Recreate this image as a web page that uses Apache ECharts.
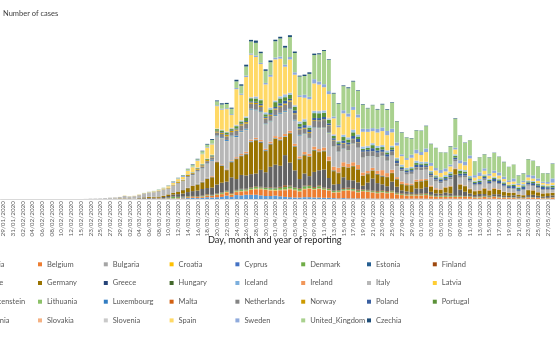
<!DOCTYPE html>
<html><head><meta charset="utf-8">
<script src="https://cdn.jsdelivr.net/npm/echarts@6/dist/echarts.min.js"></script>
<style>html,body{margin:0;padding:0;background:#fff}#c{width:555px;height:338px}</style>
</head><body><div id="c"></div>
<script>
const dates = ['29/01/2020','30/01/2020','31/01/2020','01/02/2020','02/02/2020','03/02/2020','04/02/2020','05/02/2020','06/02/2020','07/02/2020',
'08/02/2020','09/02/2020','10/02/2020','11/02/2020','12/02/2020','14/02/2020','15/02/2020','22/02/2020','23/02/2020','24/02/2020',
'25/02/2020','26/02/2020','27/02/2020','28/02/2020','29/02/2020','01/03/2020','02/03/2020','03/03/2020','04/03/2020','05/03/2020',
'06/03/2020','07/03/2020','08/03/2020','09/03/2020','10/03/2020','11/03/2020','12/03/2020','13/03/2020','14/03/2020','15/03/2020',
'16/03/2020','17/03/2020','18/03/2020','19/03/2020','20/03/2020','21/03/2020','22/03/2020','23/03/2020','24/03/2020','25/03/2020',
'26/03/2020','27/03/2020','28/03/2020','29/03/2020','30/03/2020','31/03/2020','01/04/2020','02/04/2020','03/04/2020','04/04/2020',
'05/04/2020','06/04/2020','07/04/2020','08/04/2020','09/04/2020','10/04/2020','11/04/2020','12/04/2020','13/04/2020','14/04/2020',
'15/04/2020','16/04/2020','17/04/2020','18/04/2020','19/04/2020','20/04/2020','21/04/2020','22/04/2020','23/04/2020','24/04/2020',
'25/04/2020','26/04/2020','27/04/2020','28/04/2020','29/04/2020','30/04/2020','01/05/2020','02/05/2020','03/05/2020','04/05/2020',
'05/05/2020','06/05/2020','07/05/2020','08/05/2020','09/05/2020','10/05/2020','11/05/2020','12/05/2020','13/05/2020','14/05/2020',
'15/05/2020','16/05/2020','17/05/2020','18/05/2020','19/05/2020','20/05/2020','21/05/2020','22/05/2020','23/05/2020','24/05/2020',
'25/05/2020','26/05/2020','27/05/2020','28/05/2020'];

const austria = [0,0,0,0,0,0,0,0,0,0, 0,0,0,0,0,0,0,0,0,0, 2,0,3,4,1,4,4,3,3,12,
10,15,20,30,40,60,60,100,150,200, 150,200,300,250,300,350,550,350,650,600,
700,700,700,600,500,500,550,450,350,300, 250,250,300,300,250,250,200,200,150,100,
150,100,100,100,80,80,80,60,60,60, 60,60,50,50,50,60,60,50,40,30,
40,40,50,40,40,40,30,30,30,30, 40,40,30,30,30,30,20,20,30,30,20,20,20,20];
const belgium = [0,0,0,0,0,0,1,0,0,0, 0,0,0,0,0,0,0,0,0,0, 0,0,0,0,0,1,7,5,10,27,
30,50,60,30,70,50,80,100,150,130, 170,180,240,250,400,450,550,350,500,650,
600,800,900,1000,1000,900,800,1000,1100,1300, 1200,1000,1300,1400,1300,1400,1300,1200,900,1000,
1200,1300,1200,1000,1200,1100,1000,900,1000,900, 1000,700,600,500,500,500,500,600,400,300,
300,300,300,300,300,300,300,200,200,300, 200,300,200,200,200,150,100,100,200,200,150,100,100,200];
const bulgaria = [0,0,0,0,0,0,0,0,0,0, 0,0,0,0,0,0,0,0,0,0, 0,0,0,0,0,0,0,0,0,0,
0,0,4,2,2,3,4,14,2,10, 7,24,11,22,13,14,11,25,15,43,
22,23,25,28,29,40,31,34,28,35, 22,31,26,28,25,40,20,32,36,28,
25,35,58,42,33,30,29,37,29,44, 30,24,39,49,38,29,49,30,31,30,
30,16,20,25,40,25,30,20,25,32, 30,25,35,20,15,30,20,15,20,10,15,17,11,13];
const croatia = [0,0,0,0,0,0,0,0,0,0, 0,0,0,0,0,0,0,0,0,0, 1,2,0,0,1,2,1,2,1,1,
1,1,1,0,1,2,1,5,3,5, 11,12,26,20,24,36,48,52,63,38,
60,71,83,89,56,83,96,51,104,80, 72,74,57,57,60,53,58,34,44,44,
34,70,44,25,20,30,20,20,30,20, 20,15,10,10,15,10,10,5,8,5,
5,10,5,5,3,5,3,2,3,4, 2,1,2,3,1,2,1,1,0,1,2,1,0,1];
const cyprus = [0,0,0,0,0,0,0,0,0,0, 0,0,0,0,0,0,0,0,0,0, 0,0,0,0,0,0,0,0,0,0,
0,0,2,0,0,1,3,10,6,7, 6,12,21,9,9,24,16,11,29,16,
14,5,11,19,17,16,24,7,21,23, 21,17,9,20,16,28,9,20,15,24,
9,21,9,10,5,16,15,5,10,9, 4,5,3,3,1,1,5,3,7,6,
3,2,4,3,2,3,4,2,2,3, 2,1,3,1,0,1,2,3,2,1,0,2,1,0];
const denmark = [0,0,0,0,0,0,0,0,0,0, 0,0,0,0,0,0,0,0,0,0, 0,0,1,0,2,1,0,1,5,10,
10,8,15,18,90,250,160,50,120,64, 60,70,100,60,80,140,100,70,120,230,
180,200,260,170,220,230,250,280,370,320, 270,300,390,330,180,310,180,170,170,190,
210,150,220,190,160,150,140,170,180,140, 160,140,120,130,150,130,140,160,130,90,
120,140,100,120,100,80,90,60,90,100, 70,70,60,50,50,60,40,50,60,40,40,30,40,40];
const estonia = [0,0,0,0,0,0,0,0,0,0, 0,0,0,0,0,0,0,0,0,0, 0,0,1,0,0,0,0,0,0,0,
1,0,0,0,8,1,10,80,20,20, 40,20,30,40,20,28,30,30,50,60,
40,30,50,40,45,60,40,50,40,60, 40,30,50,40,30,40,20,30,30,20,
30,40,30,25,20,20,20,15,10,20, 10,10,15,10,5,10,8,10,5,5,
8,5,5,10,5,5,3,5,5,4, 3,5,3,4,2,3,2,1,3,2,1,2,1,2];
const finland = [1,0,0,0,0,0,0,0,0,0, 0,0,0,0,0,0,0,0,0,0, 0,1,0,0,0,0,4,0,1,5,
6,3,11,5,10,20,40,50,45,70, 50,40,90,40,50,60,70,100,80,50,
80,90,90,80,70,110,90,140,260,120, 70,100,90,110,130,140,100,90,60,80,
140,170,130,160,90,90,90,130,110,120, 100,80,100,110,90,100,130,110,70,60,
80,60,50,40,60,50,50,60,80,50, 40,50,60,40,20,30,30,20,40,20,10,20,30,20];
const france = [1,0,1,0,0,0,0,0,0,0, 5,0,0,0,0,0,1,0,0,0, 2,1,3,20,43,30,61,12,80,92,
120,150,100,250,280,350,450,500,650,800, 900,1100,1000,1200,1500,1600,1500,2600,1800,2300,
2200,2200,2100,2800,2500,3400,3800,3500,5000,3800, 2800,1500,2000,1500,2500,2500,3000,1700,1000,1000,
1800,1250,1300,1200,600,1200,2000,1300,1000,800, 1500,1000,500,400,300,900,800,1000,500,400,
300,500,400,3500,1000,700,400,300,400,300, 200,300,400,200,200,300,200,100,300,400,300,200,300,300];
const germany = [4,1,1,2,1,1,2,1,0,2, 0,0,1,2,1,0,0,0,0,0, 0,2,21,26,57,57,28,28,52,108,
150,130,170,200,250,300,400,550,650,850, 1000,1100,1500,1700,3700,2800,1900,2500,3300,3100,
3500,5300,5500,4500,3500,3700,4300,4200,3000,4800, 3900,3200,3000,3200,3500,3000,3000,2800,2200,1800,
1700,2000,2300,2100,1600,1400,1300,1400,1300,1500, 1400,1200,1000,1000,1100,1100,1200,1100,800,600,
600,800,1100,900,800,900,700,600,500,900, 800,900,700,600,500,400,300,300,800,700,550,500,450,400];
const greece = [0,0,0,0,0,0,0,0,0,0, 0,0,0,0,0,0,0,0,0,0, 0,0,1,2,1,3,0,0,2,22,
14,1,28,0,11,15,31,90,38,43, 30,27,56,31,30,46,37,94,71,56,
78,71,29,100,95,60,31,50,20,50, 50,62,60,30,50,20,30,15,56,15,
20,23,20,20,30,40,20,60,80,10, 20,20,8,10,20,10,30,10,5,10,
10,5,10,10,20,10,10,5,10,5, 5,4,5,10,4,10,3,5,10,3,5,10,3,5];
const hungary = [0,0,0,0,0,0,0,0,0,0, 0,0,0,0,0,0,0,0,0,0, 0,0,0,0,0,0,0,0,0,0,
2,0,2,2,0,4,3,3,6,2, 11,11,19,8,15,12,17,36,20,41,
35,35,66,42,39,45,45,60,38,44, 61,111,84,51,93,79,91,38,81,70,
58,70,62,60,50,80,40,60,70,60, 40,60,50,40,60,50,40,50,30,40,
30,30,25,40,40,30,20,25,30,20, 20,25,15,20,20,15,10,15,20,15,10,15,10,10];
const iceland = [0,0,0,0,0,0,0,0,0,0, 0,0,0,0,0,0,0,0,0,0, 0,0,0,1,0,2,3,10,10,19,
10,10,5,10,13,22,30,15,40,30, 40,38,53,47,78,60,68,95,38,80,
60,80,90,70,45,60,65,56,100,30, 50,40,20,30,45,25,30,25,14,13,
12,10,13,14,9,7,11,11,7,6, 3,7,3,2,4,4,5,2,1,3,
2,0,1,1,0,2,1,0,0,1, 0,1,0,0,1,0,0,1,0,0,1,0,2,0];
const ireland = [0,0,0,0,0,0,0,0,0,0, 0,0,0,0,0,0,0,0,0,0, 0,0,0,0,1,0,1,0,4,7,
5,5,5,10,10,10,15,20,40,50, 40,70,80,120,100,120,100,100,200,200,
250,250,250,250,200,300,300,400,350,350, 350,350,400,400,500,400,500,700,600,800,
700,600,600,700,500,400,400,500,900,600, 500,300,400,300,200,300,300,200,200,200,
100,100,100,100,100,100,100,100,100,100, 100,100,100,60,60,60,50,50,60,50,50,40,40,50];
const italy = [0,0,2,0,0,0,0,0,0,1, 0,0,0,0,0,0,0,17,60,70, 90,130,180,200,220,400,300,400,450,520,
620,700,800,950,900,1100,1250,1300,1700,1650, 2000,2100,2300,2500,4000,4300,4600,3900,3300,3600,
3600,4900,4500,4500,4000,3300,3300,3800,3600,3500, 3800,3400,2900,2500,3100,3400,3200,3800,3300,2600,
2200,2200,3000,2800,2400,2400,1900,2200,2300,2000, 2300,1800,1700,1400,1600,1600,1500,1500,1400,1100,
1000,900,1100,1100,1000,1300,1100,800,750,1300, 900,900,800,800,600,500,450,800,650,650,650,500,500,400];
const latvia = [0,0,0,0,0,0,0,0,0,0, 0,0,0,0,0,0,0,0,0,0, 0,0,0,0,0,0,1,0,0,0,
0,1,0,2,2,6,7,15,10,8, 8,26,11,26,30,25,15,20,17,30,
26,24,17,26,29,25,22,12,20,23, 16,9,16,25,12,14,12,10,7,6,
11,17,14,8,13,6,4,5,7,4, 10,5,6,10,4,9,8,8,3,4,
3,10,2,3,11,7,2,4,5,3, 2,3,2,4,1,4,2,3,4,2,1,3,1,2];
const liechtenstein = [0,0,0,0,0,0,0,0,0,0, 0,0,0,0,0,0,0,0,0,0, 0,0,0,0,0,0,0,0,0,0,
0,0,0,0,0,1,0,2,1,3, 2,1,3,4,5,3,4,6,3,4,
5,3,2,4,3,1,2,3,1,2, 1,2,1,0,1,0,1,0,0,1,
0,0,1,0,0,0,0,1,0,0, 0,0,0,0,0,0,0,0,0,0,
0,0,0,0,0,0,0,0,0,0, 0,0,0,0,0,0,0,0,0,0,0,0,0,0];
const lithuania = [0,0,0,0,0,0,0,0,0,0, 0,0,0,0,0,0,0,0,0,0, 0,0,0,1,0,0,0,0,0,0,
0,0,0,1,1,1,3,1,4,5, 12,9,15,22,20,24,15,44,28,56,
43,36,24,62,34,40,28,52,71,37, 39,38,47,37,40,46,55,81,21,27,
19,22,56,27,31,17,16,20,34,37, 30,20,15,12,10,12,8,15,14,10,
8,11,6,17,8,9,11,8,2,5, 7,15,6,12,14,10,8,12,9,7,11,6,8,5];
const luxembourg = [0,0,0,0,0,0,0,0,0,0, 0,0,0,0,0,0,0,0,0,0, 0,0,0,0,0,1,0,0,0,0,
1,2,1,0,1,3,9,8,19,26, 34,59,63,143,136,140,146,128,223,163,
138,141,131,152,120,92,135,130,131,150, 119,111,98,57,76,56,57,73,37,40,
70,32,40,30,25,20,20,20,30,20, 15,10,15,10,20,10,10,15,8,5,
4,10,10,15,10,5,8,4,5,8, 5,10,5,4,3,5,6,2,4,5,3,2,4,3];
const malta = [0,0,0,0,0,0,0,0,0,0, 0,0,0,0,0,0,0,0,0,0, 0,0,0,0,0,0,0,0,0,0,
0,3,0,1,1,2,3,5,6,7, 6,7,8,5,11,10,10,18,14,11,
11,10,6,15,3,7,19,9,11,14, 14,8,13,6,14,9,15,6,11,6,
10,14,7,4,7,1,3,4,6,5, 3,2,3,2,4,3,2,2,1,2,
3,1,2,3,2,1,2,3,2,1, 2,1,3,2,1,2,1,3,2,1,2,1,0,2];
const netherlands = [0,0,0,0,0,0,0,0,0,0, 0,0,0,0,0,0,0,0,0,0, 0,0,1,1,4,6,6,6,14,44,
30,40,60,50,70,60,120,100,150,170, 280,300,350,400,500,550,600,550,800,850,
850,800,900,700,800,800,900,1000,1000,1100, 900,900,800,800,1000,1100,1200,1100,1000,900,
800,800,700,800,900,700,700,700,600,600, 600,400,200,300,300,400,400,400,300,300,
200,200,300,300,300,300,200,200,200,200, 200,200,200,150,100,150,100,100,200,150,150,150,150,150];
const norway = [0,0,0,0,0,0,0,0,0,0, 0,0,0,0,0,0,0,0,0,0, 0,0,1,5,0,8,4,7,25,32,
30,21,29,30,70,80,190,100,180,130, 160,170,180,150,190,200,250,190,200,220,
250,230,210,280,140,210,180,190,220,210, 160,130,150,170,140,120,110,90,70,90,
90,100,80,90,60,60,70,60,60,60, 50,60,40,40,50,40,40,50,30,20,
30,30,30,20,20,20,20,10,20,20, 10,15,10,10,10,15,10,10,10,10,8,8,8,8];
const poland = [0,0,0,0,0,0,0,0,0,0, 0,0,0,0,0,0,0,0,0,0, 0,0,0,0,0,0,0,0,1,0,
0,4,7,6,5,5,9,23,17,36, 52,73,42,76,115,111,98,115,152,150,
170,196,170,249,193,256,243,392,437,244, 475,311,435,357,370,380,401,318,260,268,
380,336,461,545,263,306,545,380,381,404, 316,460,285,302,270,380,430,275,250,350,
330,290,307,310,330,340,310,220,350,290, 330,360,390,310,300,380,280,440,300,330,290,390,270,290];
const portugal = [0,0,0,0,0,0,0,0,0,0, 0,0,0,0,0,0,0,0,0,0, 0,0,0,0,0,0,2,2,2,3,
0,2,10,10,9,20,19,19,40,70, 80,100,150,120,250,260,300,200,400,300,
550,500,550,600,400,600,800,800,600,700, 600,500,600,400,800,800,700,600,400,300,
600,500,600,400,200,300,500,400,400,300, 400,200,200,200,300,300,200,300,200,200,
200,200,300,300,500,300,200,200,200,200, 200,200,200,200,150,200,200,200,200,200,200,200,150,250];
const romania = [0,0,0,0,0,0,0,0,0,0, 0,0,0,0,0,0,0,0,0,0, 0,1,2,0,0,0,0,1,0,1,
4,0,6,2,10,7,20,33,10,34, 30,45,23,64,46,59,66,143,157,144,
186,123,263,94,296,263,214,308,445,259, 245,328,360,303,351,351,366,225,206,193,
338,333,419,329,380,306,326,333,325,325, 255,250,316,272,232,383,306,264,246,160,
206,300,270,246,220,250,220,190,290,200, 200,190,160,170,120,140,190,220,160,170,140,150,120,140];
const slovakia = [0,0,0,0,0,0,0,0,0,0, 0,0,0,0,0,0,0,0,0,0, 0,0,0,0,0,0,0,0,0,0,
1,2,2,2,2,3,1,4,9,12, 18,11,12,16,11,37,48,47,35,31,
12,40,69,44,21,24,37,36,77,45, 36,35,34,46,42,90,47,102,85,62,
76,47,89,20,55,48,31,23,18,24, 16,30,20,13,10,20,9,16,10,5,
3,12,6,2,7,3,3,3,6,5, 5,2,1,2,3,1,0,2,3,1,2,1,4,1];
const slovenia = [0,0,0,0,0,0,0,0,0,0, 0,0,0,0,0,0,0,0,0,0, 0,0,0,0,0,0,0,0,0,1,
0,5,4,6,9,15,30,60,40,40, 34,25,31,33,57,53,48,40,35,40,
48,50,38,49,29,46,43,44,34,34, 36,55,41,45,30,16,21,20,15,15,
20,15,10,10,12,20,10,10,8,8, 6,5,5,8,4,5,3,2,3,2,
2,1,2,3,2,1,2,1,1,1, 2,1,2,1,0,1,2,1,0,1,0,1,2,1];
const spain = [0,0,0,1,0,0,0,0,0,0, 0,0,1,0,0,0,0,0,0,0, 4,3,6,10,20,29,36,45,57,37,
60,100,120,150,250,300,350,400,550,800, 1100,1600,1800,1700,3700,3300,3700,2100,5900,4200,
6500,7000,6500,5800,4600,5100,6800,6200,4500,5500, 5000,4000,3500,4300,4500,4300,3800,3900,2600,2200,
3500,3400,3200,2800,2400,2300,1950,2200,2300,2500, 2200,2000,1400,1300,1500,1200,1100,1600,800,800,
700,600,900,800,1000,800,2900,500,500,600, 500,600,500,400,400,400,300,300,500,400,400,300,300,400];
const sweden = [0,0,1,0,0,0,0,0,0,0, 0,0,0,0,0,0,0,0,0,0, 0,1,6,5,2,0,2,8,15,37,
40,30,40,50,100,150,120,150,100,100, 100,80,100,120,150,150,150,150,200,200,
250,200,250,200,250,300,300,350,350,400, 400,300,500,400,700,500,500,500,300,300,
500,500,500,500,500,500,500,600,600,700, 600,500,300,300,500,600,500,600,500,400,
500,500,300,300,500,600,500,400,600,400, 300,400,500,400,300,500,250,250,400,500,400,200,300,700];
const unitedKingdom = [0,0,2,0,0,0,0,0,1,0, 0,0,4,1,0,0,0,0,0,0, 4,0,2,5,3,12,13,4,11,34,
40,50,60,50,60,70,80,130,200,250, 150,400,400,600,650,700,700,900,1100,1300,
1500,2000,2100,1600,2000,2100,2700,3000,2800,3300, 3200,3100,3100,3800,4000,4500,5500,5200,3800,3600,
4000,4200,4200,3900,4000,3400,3800,3200,3800,3500, 4300,3500,3600,3400,2700,3200,3500,3700,3100,3300,
2900,2600,3000,4800,4100,3100,2500,2300,2500,2300, 2700,2900,2600,2400,2200,2300,1300,1200,2600,2400,2000,1400,1400,2400];
const czechia = [0,0,0,0,0,0,0,0,0,0, 0,0,0,0,0,0,0,0,0,0, 0,0,0,0,0,0,3,0,2,3,
7,7,14,6,9,32,25,40,50,100, 80,90,120,150,140,200,180,170,260,240,
300,260,370,240,250,290,250,280,300,310, 240,150,230,250,240,180,150,100,120,100,
120,150,120,100,90,70,60,100,120,110, 90,60,70,50,70,60,50,70,60,40,
30,40,70,80,40,60,30,20,30,50, 50,50,40,60,30,20,50,50,40,40,30,20,50,60];

const countryNames = ['Austria','Belgium','Bulgaria','Croatia','Cyprus','Denmark','Estonia','Finland',
'France','Germany','Greece','Hungary','Iceland','Ireland','Italy','Latvia',
'Liechtenstein','Lithuania','Luxembourg','Malta','Netherlands','Norway','Poland','Portugal',
'Romania','Slovakia','Slovenia','Spain','Sweden','United_Kingdom','Czechia'];
const countryData = [austria,belgium,bulgaria,croatia,cyprus,denmark,estonia,finland,
france,germany,greece,hungary,iceland,ireland,italy,latvia,
liechtenstein,lithuania,luxembourg,malta,netherlands,norway,poland,portugal,
romania,slovakia,slovenia,spain,sweden,unitedKingdom,czechia];

const palette = ['#5B9BD5','#ED7D31','#A5A5A5','#FFC000','#4472C4','#70AD47','#255E91','#9E480E',
'#636363','#997300','#264478','#43682B','#7CAFDD','#F1975A','#B7B7B7','#FFCD33',
'#698ED0','#8CC168','#327DC2','#D26012','#848484','#CC9A00','#3A5FA0','#5B9138',
'#9DC3E6','#F4B183','#C9C9C9','#FFD966','#8FAADC','#A9D18E','#1F4E79'];

const FONT = 'Lato, "Open Sans", sans-serif';
const chart = echarts.init(document.getElementById('c'), null, {renderer: 'canvas'});

const series = countryNames.map((n, i) => ({
  name: n, type: 'bar', stack: 'total', data: countryData[i],
  itemStyle: {color: palette[i]}, barCategoryGap: '18%',
  emphasis: {disabled: true}, silent: true
}));

const legends = [];
for (let c = 0; c < 8; c++) {
  const names = [];
  for (let r = 0; r < 4; r++) { const k = c + 8 * r; if (k < countryNames.length) names.push(countryNames[k]); }
  legends.push({
    data: names, orient: 'vertical', left: -27.8 + 65.8 * c, top: 259.3,
    itemWidth: 4, itemHeight: 4, icon: 'rect', itemGap: 8.7, padding: 0,
    selectedMode: false,
    textStyle: {fontSize: 7.5, color: '#595959', fontFamily: FONT, lineHeight: 10}
  });
}

chart.setOption({
  animation: false,
  backgroundColor: '#ffffff',
  grid: {left: -1, right: 0, top: 24, bottom: 139, containLabel: false},
  xAxis: {
    type: 'category', data: dates,
    axisLine: {lineStyle: {color: '#d9d9d9'}},
    axisTick: {show: false},
    axisLabel: {interval: 1, rotate: 90, fontSize: 6.4, color: '#595959', margin: 2, fontFamily: FONT}
  },
  yAxis: {type: 'value', min: 0, max: 29000, show: false, splitLine: {show: false}},
  legend: legends,
  graphic: [
    {type: 'text', left: 3, top: 10, style: {text: 'Number of cases', fontSize: 7.5, fill: '#404040', fontFamily: FONT}},
    {type: 'text', left: 208, top: 236, style: {text: 'Day, month and year of reporting', fontSize: 9.2, fill: '#262626', fontFamily: FONT}}
  ],
  series: series
});
</script>
</body></html>
